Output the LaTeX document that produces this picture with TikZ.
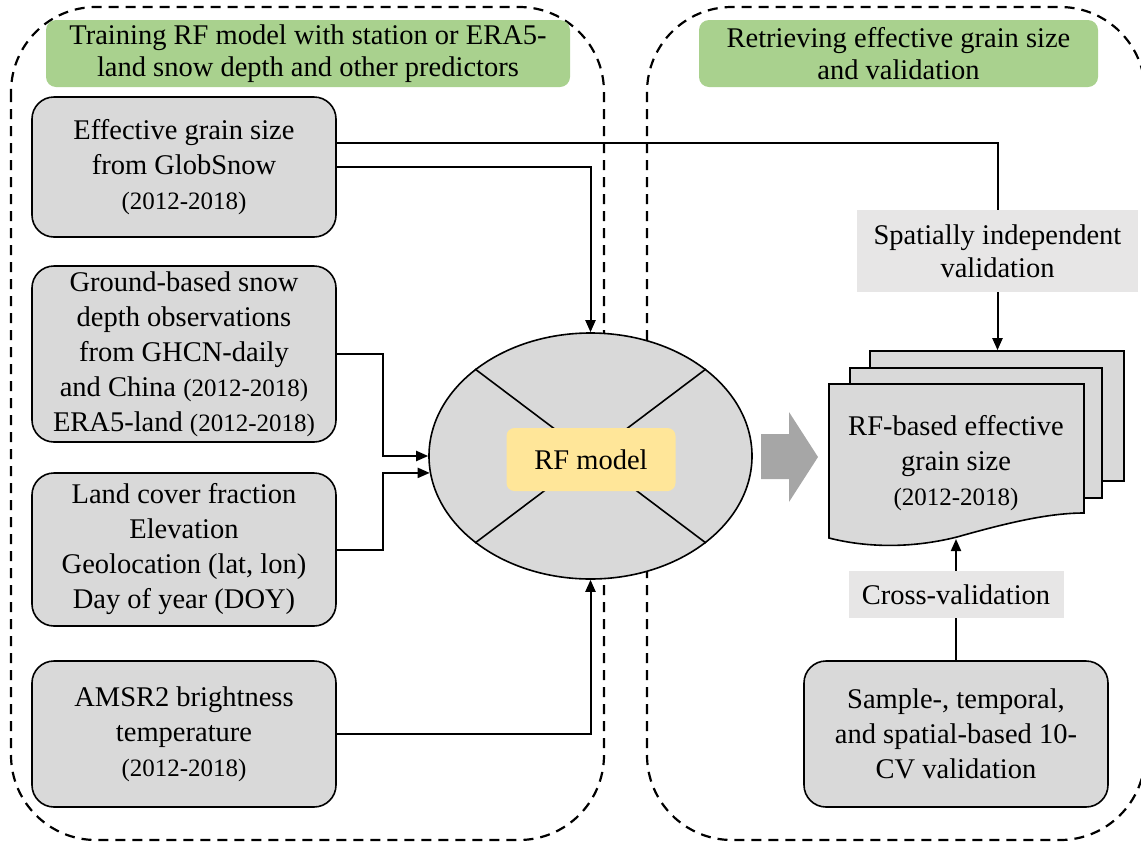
\documentclass[tikz,border=0pt]{standalone}
\usepackage{fontspec}
\setmainfont{Liberation Serif}
\usetikzlibrary{shapes.geometric,arrows.meta}
\definecolor{boxgray}{HTML}{D9D9D9}
\definecolor{lblgray}{HTML}{E7E6E6}
\definecolor{titlegreen}{HTML}{A9D18E}
\definecolor{rfyellow}{HTML}{FFE699}
\definecolor{arrgray}{HTML}{A6A6A6}
\newcommand{\yr}[1]{{\fontsize{25}{35}\selectfont #1}}
\begin{document}
\begin{tikzpicture}[x=1pt,y=-1pt,
 every node/.style={font=\fontsize{28.5}{35}\selectfont, align=center},
 inbox/.style={draw, line width=1.6pt, fill=boxgray, rounded corners=22pt, minimum width=304pt, inner sep=0pt},
 frame/.style={line width=2.2pt, dash pattern=on 10pt off 7pt, rounded corners=85pt},
 title/.style={fill=titlegreen, rounded corners=10pt, minimum height=67pt, inner sep=0pt, font=\fontsize{28.5}{32}\selectfont},
 lbl/.style={fill=lblgray, inner sep=0pt, font=\fontsize{28.5}{33}\selectfont},
 conn/.style={line width=2pt},
 arr/.style={conn, -{Triangle[length=12pt,width=10pt]}},
 page/.style={draw, line width=1.6pt, fill=boxgray, inner sep=0pt}
]
\useasboundingbox (0,0) rectangle (1141,844);
\draw[frame] (11,7) rectangle (604,840);
\draw[frame] (647,7) rectangle (1145,840);

\node[title, minimum width=524pt] (t1) at (308,53.5) {Training RF model with station or ERA5-\\land snow depth and other predictors};
\node[title, minimum width=399pt] (t2) at (898.5,53.5) {Retrieving effective grain size\\and validation};

\node[inbox, minimum height=140pt] (b1) at (184,167) {Effective grain size\\from GlobSnow\\\yr{(2012-2018)}};
\node[inbox, minimum height=176pt] (b2) at (184,354) {Ground-based snow\\depth observations\\from GHCN-daily\\and China \yr{(2012-2018)}\\ERA5-land \yr{(2012-2018)}};
\node[inbox, minimum height=153pt] (b3) at (184,549.5) {Land cover fraction\\Elevation\\Geolocation (lat, lon)\\Day of year (DOY)};
\node[inbox, minimum height=146pt] (b4) at (184,734) {AMSR2 brightness\\temperature\\\yr{(2012-2018)}};

\node[ellipse, draw, line width=1.6pt, fill=boxgray, minimum width=323pt, minimum height=246pt, inner sep=0pt] (rf) at (590.5,456) {};
\draw[line width=1.6pt] (rf.37) -- (rf.217);
\draw[line width=1.6pt] (rf.143) -- (rf.323);
\node[fill=rfyellow, rounded corners=8pt, minimum width=169pt, minimum height=63pt, inner sep=0pt] (rfm) at (591,459.5) {RF model};

\fill[arrgray] (761,434) -- (789,434) -- (789,412) -- (818,457) -- (789,502) -- (789,479) -- (761,479) -- cycle;

\node[page, minimum width=254pt, minimum height=130pt] (pg3) at (997,416) {};
\node[page, minimum width=252pt, minimum height=130pt] (pg2) at (976,433) {};
\filldraw[line width=1.6pt, fill=boxgray] (829,384) -- (1084,384) -- (1084,513) .. controls (1050,513) and (1010,522) .. (957,537) .. controls (905,550) and (860,546) .. (829,538) -- cycle;
\node (pg1) at (956,463) {RF-based effective\\grain size\\\yr{(2012-2018)}};
\coordinate (pg1b) at (956,539);

\node[lbl, minimum width=281pt, minimum height=82pt] (sp) at (997.5,251) {Spatially independent\\validation};
\node[lbl, minimum width=215pt, minimum height=47pt] (cv) at (956,594.5) {Cross-validation};
\node[inbox, minimum height=146pt] (sm) at (956,734) {Sample-, temporal,\\and spatial-based 10-\\CV validation};

\coordinate (j) at (383,0);
\draw[conn] ([yshift=24pt]b1.east) -| (sp.north);
\draw[arr] (sp.south) -- (sp.south |- pg3.north);
\draw[arr] (b1.east) -| (rf.north);
\draw[arr] (b2.east) -- (b2.east -| j) |- (rf.west);
\draw[arr] (b3.east) -- (b3.east -| j) |- (rf.186);
\draw[arr] (b4.east) -| (rf.south);
\draw[arr] (cv.north) -- (pg1b);
\draw[conn] (sm.north) -- (cv.south);
\end{tikzpicture}
\end{document}
